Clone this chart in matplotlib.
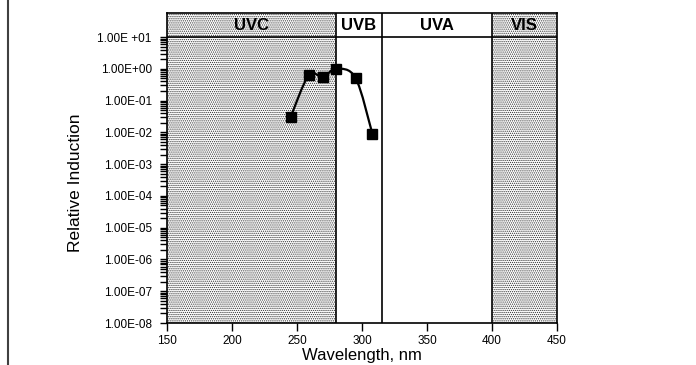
import numpy as np
import matplotlib
matplotlib.use("Agg")
import matplotlib.pyplot as plt
from matplotlib.path import Path
from matplotlib.patches import PathPatch
from matplotlib.ticker import FixedLocator, NullFormatter
from matplotlib.lines import Line2D

plt.rcParams['font.family'] = ['Liberation Sans', 'DejaVu Sans']
plt.rcParams['hatch.linewidth'] = 0.6

# action spectrum values
wavelength = [245, 259, 270, 280, 295, 308]
induction = [0.03, 0.62, 0.55, 1.0, 0.52, 0.009]

# spectral bands
band_names = ['UVC', 'UVB', 'UVA', 'VIS']
band_edges = [150, 280, 315, 400, 450]
band_shaded = [True, False, False, True]

decades = list(range(-8, 2))
ytick_labels = ['1.00E-08', '1.00E-07', '1.00E-06', '1.00E-05', '1.00E-04',
                '1.00E-03', '1.00E-02', '1.00E-01', '1.00E+00', '1.00E +01']
xticks = [150, 200, 250, 300, 350, 400, 450]

fig = plt.figure(figsize=(6.96, 3.65), dpi=100)
ax = fig.add_axes([167 / 696, 1 - 323 / 365, 390 / 696, 310 / 365])

ytop = 10 ** (1 + 24 / 31.67)
ax.set_yscale('log')
ax.set_xlim(band_edges[0], band_edges[-1])
ax.set_ylim(10.0 ** decades[0], ytop)

# shaded bands and their borders
for i, name in enumerate(band_names):
    x0, x1 = band_edges[i], band_edges[i + 1]
    if band_shaded[i]:
        ax.axvspan(x0, x1, facecolor='white', edgecolor='#303030',
                   hatch='........', linewidth=0, zorder=0)
    ax.text((x0 + x1) / 2, 10 ** (1 + 12 / 31.67), name, ha='center', va='center',
            fontsize=12, fontweight='bold')
for x in band_edges[1:-1]:
    ax.axvline(x, color='black', lw=1.2, zorder=2)
ax.axhline(10.0 ** decades[-1], color='black', lw=1.2, zorder=2)

# smoothed curve through the points (Catmull-Rom as cubic Bezier)
px = np.array(wavelength, dtype=float)
py = np.log10(induction)
pts = np.column_stack([px, py])
ext = np.vstack([pts[0], pts, pts[-1]])
verts = [pts[0]]
codes = [Path.MOVETO]
for i in range(len(pts) - 1):
    p0, p1, p2, p3 = ext[i], ext[i + 1], ext[i + 2], ext[i + 3]
    c1 = p1 + (p2 - p0) / 6
    c2 = p2 - (p3 - p1) / 6
    verts += [c1, c2, p2]
    codes += [Path.CURVE4] * 3
verts = np.array(verts)
verts[:, 1] = 10 ** verts[:, 1]
ax.add_patch(PathPatch(Path(verts, codes), facecolor='none', edgecolor='black',
                       lw=1.6, zorder=3))
ax.plot(wavelength, induction, linestyle='none', marker='s', markersize=7.3,
        color='black', zorder=4)

# axes and ticks
ax.yaxis.set_major_locator(FixedLocator([10.0 ** d for d in decades]))
ax.yaxis.set_minor_locator(FixedLocator([m * 10.0 ** d for d in decades[:-1]
                                         for m in range(2, 10)]))
ax.yaxis.set_minor_formatter(NullFormatter())
ax.set_yticklabels(ytick_labels)
ax.set_xticks(xticks)
ax.tick_params(axis='y', which='both', direction='out', length=5, width=1,
               labelsize=8.5, pad=6)
ax.tick_params(axis='x', direction='out', length=6, width=1, labelsize=8.5, pad=3)
for s in ax.spines.values():
    s.set_linewidth(1.2)

ax.set_xlabel('Wavelength, nm', fontsize=12, labelpad=0.5)
fig.text(75 / 696, 1 - 183 / 365, 'Relative Induction', rotation=90,
         ha='center', va='center', fontsize=12.5)

# frame line on the left edge
fig.add_artist(Line2D([8 / 696, 8 / 696], [0, 1], color='#404040', lw=1.5))

fig.savefig('out.png', dpi=100)
